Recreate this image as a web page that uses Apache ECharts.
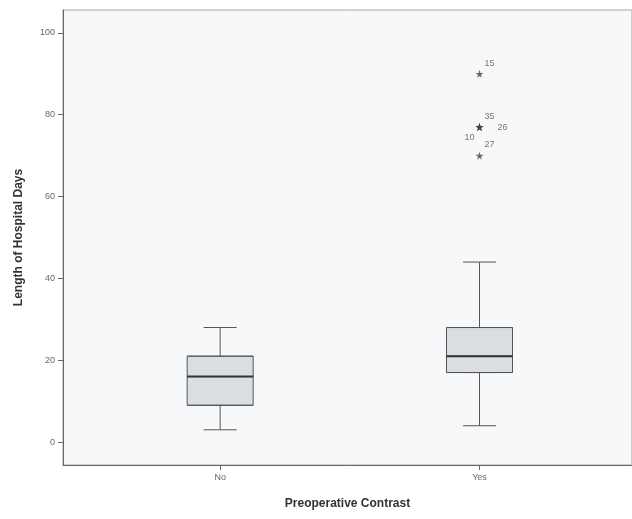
<!DOCTYPE html>
<html>
<head>
<meta charset="utf-8">
<script src="https://cdn.jsdelivr.net/npm/echarts@6/dist/echarts.min.js"></script>
<style>
  html, body { margin: 0; padding: 0; background: #fff; }
  #chart { width: 632px; height: 519px; }
</style>
</head>
<body>
<div id="chart"></div>
<script>
// groups on the x axis (0 = No, 1 = Yes)
const categories = ['No', 'Yes']
const whiskerLow = [3, 4]
const q1 = [9, 17]
const median = [16, 21]
const q3 = [21, 28]
const whiskerHigh = [28, 44]

// extreme cases (asterisks) with their case numbers
const outlierGroup = [1, 1, 1, 1, 1]
const outlierValues = [90, 77, 77, 77, 70]
const outlierCases = ['15', '35', '26', '10', '27']

const yTicks = [0, 20, 40, 60, 80, 100]

// label placement around the star, by case
const labelOffsets = { '15': [10, -10], '35': [10, -11], '26': [23, 0], '10': [-10, 10], '27': [10, -11] }

const chart = echarts.init(document.getElementById('chart'))
const font = 'Liberation Sans, Arial, sans-serif'
const star = 'path://M50,0 L61,35 L98,35 L68,57 L79,91 L50,70 L21,91 L32,57 L2,35 L39,35 Z'
const xMin = -0.606
const xMax = 1.588

const idx = categories.map((_, i) => i)
const whiskerData = idx.map(i => [i, whiskerLow[i], q1[i], q1[i], q1[i], whiskerHigh[i]])
const boxData = idx.map(i => [i, q1[i], q1[i], median[i], q3[i], q3[i]])
const medianData = idx.map(i => [i, median[i], median[i], median[i], median[i], median[i]])

const outlierData = outlierValues.map((v, i) => ({
  value: [outlierGroup[i], v],
  name: outlierCases[i],
  label: { offset: labelOffsets[outlierCases[i]] }
}))

// hidden twin axes so the boxplot layers are not placed side by side
const hiddenX = () => ({ type: 'value', min: xMin, max: xMax, show: false })

const option = {
  animation: false,
  backgroundColor: '#ffffff',
  grid: {
    left: 63,
    right: -2,
    top: 10,
    bottom: 54,
    show: true,
    backgroundColor: '#f6f8f9',
    borderColor: '#a9a9a9',
    borderWidth: 1
  },
  xAxis: [
    {
      type: 'value',
      min: xMin,
      max: xMax,
      name: 'Preoperative Contrast',
      nameLocation: 'middle',
      nameGap: 33,
      nameTextStyle: { fontFamily: font, fontSize: 12, fontWeight: 'bold', color: '#333' },
      axisLine: { show: true, onZero: false, lineStyle: { color: '#666', width: 1 } },
      axisTick: { show: true, length: 5, customValues: idx, lineStyle: { color: '#666' } },
      axisLabel: {
        customValues: idx,
        formatter: v => categories[v],
        fontFamily: font,
        fontSize: 9,
        color: '#666',
        margin: 8
      },
      splitLine: { show: false }
    },
    hiddenX(),
    hiddenX()
  ],
  yAxis: {
    type: 'value',
    min: -5.6,
    max: 105.6,
    name: 'Length of Hospital Days',
    nameLocation: 'middle',
    nameGap: 38,
    nameTextStyle: { fontFamily: font, fontSize: 12, fontWeight: 'bold', color: '#333' },
    axisLine: { show: true, onZero: false, lineStyle: { color: '#666', width: 1 } },
    axisTick: { show: true, length: 5, customValues: yTicks, lineStyle: { color: '#666' } },
    axisLabel: {
      customValues: yTicks,
      fontFamily: font,
      fontSize: 9,
      color: '#666',
      margin: 8
    },
    splitLine: { show: false }
  },
  series: [
    {
      // whiskers with short caps
      type: 'boxplot',
      xAxisIndex: 0,
      data: whiskerData,
      boxWidth: [33, 33],
      silent: true,
      itemStyle: { color: '#dadee3', borderColor: '#555', borderWidth: 1 },
      emphasis: { disabled: true }
    },
    {
      // box body
      type: 'boxplot',
      xAxisIndex: 1,
      data: boxData,
      boxWidth: [66, 66],
      silent: true,
      itemStyle: { color: '#dadee3', borderColor: '#555', borderWidth: 1 },
      emphasis: { disabled: true }
    },
    {
      // thick median line
      type: 'boxplot',
      xAxisIndex: 2,
      data: medianData,
      boxWidth: [66, 66],
      silent: true,
      itemStyle: { color: 'transparent', borderColor: '#333', borderWidth: 2 },
      emphasis: { disabled: true }
    },
    {
      type: 'scatter',
      xAxisIndex: 0,
      data: outlierData,
      symbol: star,
      symbolSize: 8,
      silent: true,
      itemStyle: { color: '#444' },
      label: {
        show: true,
        position: 'inside',
        formatter: p => p.name,
        fontFamily: font,
        fontSize: 9,
        color: '#555'
      },
      emphasis: { disabled: true }
    }
  ]
}

chart.setOption(option)
</script>
</body>
</html>
